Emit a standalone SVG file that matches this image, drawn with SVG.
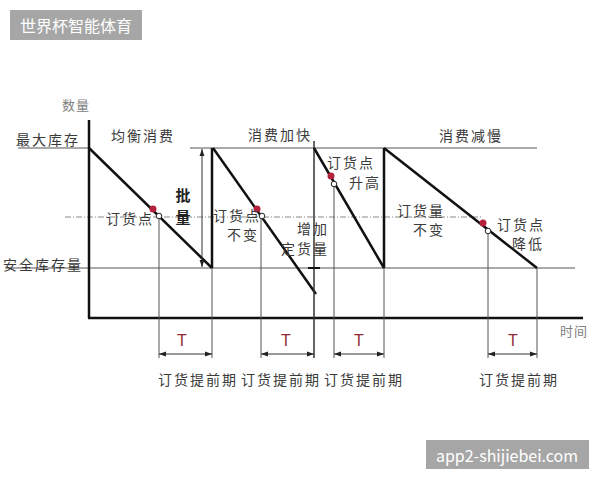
<svg xmlns="http://www.w3.org/2000/svg" width="600" height="480" viewBox="0 0 600 480">
<defs>
<style>
.t{font-family:"Noto Sans CJK SC","Noto Sans",sans-serif;font-size:14px;fill:#3a3a3a;text-anchor:middle;dominant-baseline:central;letter-spacing:2px}
.s{font-family:"Noto Sans CJK SC","Noto Sans",sans-serif;font-size:13px;fill:#808080;text-anchor:middle;dominant-baseline:central;letter-spacing:1px}
.b{font-family:"Noto Sans CJK SC","Noto Sans",sans-serif;font-size:15px;font-weight:bold;fill:#222;text-anchor:middle;dominant-baseline:central}
.T{font-family:"Liberation Sans",Arial,sans-serif;font-size:16px;fill:#8f2a35;text-anchor:middle;dominant-baseline:central}
.w{font-family:"Noto Sans CJK SC","Liberation Sans",sans-serif;font-size:16px;fill:#fff;text-anchor:middle;dominant-baseline:central}
.thick{stroke:#111;stroke-width:2.5;fill:none}
.thin{stroke:#555;stroke-width:1;fill:none}
.dd{stroke:#888;stroke-width:1;stroke-dasharray:6 2 1 2;fill:none}
.arr{stroke:#333;stroke-width:1;fill:none;marker-start:url(#ah);marker-end:url(#ah)}
.red{fill:#b3213c}
.open{fill:#fff;stroke:#222;stroke-width:1}
</style>
<marker id="ah" viewBox="0 0 10 10" refX="10" refY="5" markerWidth="7" markerHeight="7" orient="auto-start-reverse" markerUnits="userSpaceOnUse">
<path d="M0,1.5 L10,5 L0,8.5 Z" fill="#222"/>
</marker>
</defs>
<rect width="600" height="480" fill="#fff"/>

<g id="watermark-top">
<rect x="10" y="10" width="132" height="30" fill="#a6a6a6"/>
<text class="w" x="76" y="25">世界杯智能体育</text>
</g>
<g id="watermark-bottom">
<rect x="426" y="440" width="163" height="29" fill="#a6a6a6"/>
<text class="w" x="507" y="455">app2-shijiebei.com</text>
</g>

<g id="reference-lines">
<line class="thin" x1="18" y1="148" x2="90" y2="148"/>
<line class="thin" x1="190" y1="148" x2="537" y2="148"/>
<line class="thin" x1="5" y1="268" x2="575" y2="268"/>
<line class="dd" x1="65" y1="217" x2="482" y2="217"/>
</g>

<g id="axes">
<line class="thick" x1="89" y1="120" x2="89" y2="318"/>
<line class="thick" x1="88" y1="318" x2="583" y2="318"/>
<text class="s" x="76" y="104">数量</text>
<text class="s" x="574" y="330">时间</text>
<text class="t" x="48" y="139">最大库存</text>
<text class="t" x="43" y="264">安全库存量</text>
</g>

<g id="connectors">
<line class="thick" x1="89" y1="148" x2="212" y2="268"/>
<line class="thick" x1="212" y1="148" x2="212" y2="268"/>
<line class="thin" x1="212" y1="268" x2="212" y2="358"/>
<line class="thin" x1="159" y1="216" x2="159" y2="358"/>
<line class="arr" x1="202" y1="149" x2="202" y2="267"/>
<line class="thick" x1="213" y1="148" x2="316" y2="294"/>
<line class="thin" x1="261" y1="216" x2="261" y2="358"/>
<line class="thin" x1="314" y1="141" x2="314" y2="358" style="stroke-width:1.5;stroke:#333"/>
<line class="thick" x1="308" y1="268" x2="320" y2="268" style="stroke-width:2"/>
<line class="thick" x1="314" y1="148" x2="384" y2="268"/>
<line class="thin" x1="334" y1="184" x2="334" y2="358"/>
<line class="thick" x1="384" y1="148" x2="384" y2="268"/>
<line class="thin" x1="384" y1="268" x2="384" y2="358"/>
<line class="thick" x1="384" y1="148" x2="537" y2="268"/>
<line class="thin" x1="537" y1="268" x2="537" y2="358"/>
<line class="thin" x1="488" y1="231" x2="488" y2="358"/>
<line class="arr" x1="159" y1="354" x2="212" y2="354"/>
<line class="arr" x1="261" y1="354" x2="314" y2="354"/>
<line class="arr" x1="334" y1="354" x2="384" y2="354"/>
<line class="arr" x1="488" y1="354" x2="537" y2="354"/>
</g>

<g id="order-points">
<circle class="red" cx="153" cy="209" r="3.5"/>
<circle class="open" cx="159" cy="216" r="2.8"/>
<circle class="red" cx="257" cy="209" r="3.5"/>
<circle class="open" cx="262" cy="216" r="2.8"/>
<circle class="red" cx="331" cy="176" r="3.5"/>
<circle class="open" cx="334" cy="184" r="2.8"/>
<circle class="red" cx="483" cy="223" r="3.5"/>
<circle class="open" cx="488" cy="231" r="2.8"/>
</g>

<g id="period-1">
<text class="t" x="143" y="135">均衡消费</text>
<text class="t" x="130" y="218">订货点</text>
<text class="b" x="183" y="194">批</text>
<text class="b" x="183" y="216">量</text>
</g>
<g id="period-2">
<text class="t" x="280" y="134">消费加快</text>
<text class="t" x="237" y="215">订货点</text>
<text class="t" x="243" y="234">不变</text>
<text class="t" x="313" y="228">增加</text>
<text class="t" x="305" y="248">定货量</text>
</g>
<g id="period-3">
<text class="t" x="351" y="162">订货点</text>
<text class="t" x="365" y="182">升高</text>
</g>
<g id="period-4">
<text class="t" x="471" y="135">消费减慢</text>
<text class="t" x="421" y="210">订货量</text>
<text class="t" x="429" y="229">不变</text>
<text class="t" x="521" y="224">订货点</text>
<text class="t" x="528" y="243">降低</text>
</g>

<g id="lead-times">
<text class="T" x="182" y="340">T</text>
<text class="T" x="286" y="340">T</text>
<text class="T" x="359" y="340">T</text>
<text class="T" x="513" y="340">T</text>
<text class="t" x="198" y="379">订货提前期</text>
<text class="t" x="281" y="379">订货提前期</text>
<text class="t" x="364" y="379">订货提前期</text>
<text class="t" x="519" y="379">订货提前期</text>
</g>
</svg>
